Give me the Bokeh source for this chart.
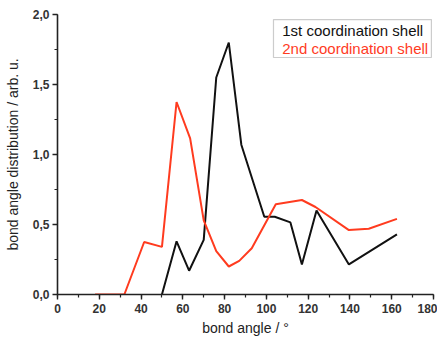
from bokeh.plotting import figure
from bokeh.models import Range1d, FixedTicker, Label, BoxAnnotation
from bokeh.embed import file_html
from bokeh.resources import INLINE

# 1st coordination shell (black)
x_first = [50, 57, 63, 70, 76, 82, 88, 99, 104, 111.5, 117, 124, 139.5, 162.5]
y_first = [0.0, 0.38, 0.17, 0.39, 1.55, 1.80, 1.07, 0.555, 0.555, 0.515, 0.215, 0.60, 0.215, 0.43]

# 2nd coordination shell (red)
x_second = [18, 32, 41.5, 50, 57, 63.5, 70, 76, 82, 87, 93, 104.5, 117, 123.5, 139.5, 149, 162.5]
y_second = [0.0, 0.0, 0.375, 0.34, 1.375, 1.115, 0.53, 0.31, 0.20, 0.24, 0.33, 0.645, 0.675, 0.625, 0.46, 0.47, 0.54]

x_ticks = [0, 20, 40, 60, 80, 100, 120, 140, 160, 180]
y_ticks = [0.0, 0.5, 1.0, 1.5, 2.0]
y_tick_labels = ["0,0", "0,5", "1,0", "1,5", "2,0"]
legend_labels = ["1st coordination shell", "2nd coordination shell"]

BLACK = "#111111"
RED = "#ff3b1f"
FONT = "Liberation Sans"

p = figure(width=437, height=342, output_backend="svg", toolbar_location=None,
           x_range=Range1d(0, 180), y_range=Range1d(0, 2.0),
           min_border_left=57, min_border_right=4, min_border_top=14, min_border_bottom=48)
p.outline_line_color = None
p.xgrid.visible = False
p.ygrid.visible = False
p.background_fill_color = "white"

p.line(x_first, y_first, line_color=BLACK, line_width=2)
p.line(x_second, y_second, line_color=RED, line_width=2)

for ax in (p.xaxis[0], p.yaxis[0]):
    ax.axis_line_color = "#222222"
    ax.axis_line_width = 1.6
    ax.major_tick_line_color = "#222222"
    ax.minor_tick_line_color = "#222222"
    ax.major_tick_line_width = 1.4
    ax.minor_tick_line_width = 1.2
    ax.major_tick_in = 0
    ax.major_tick_out = 5
    ax.minor_tick_in = 0
    ax.minor_tick_out = 3
    ax.major_label_text_font = FONT
    ax.major_label_text_font_size = "12px"
    ax.major_label_text_font_style = "bold"
    ax.major_label_text_color = "#333333"
    ax.axis_label_text_font = FONT
    ax.axis_label_text_font_size = "14px"
    ax.axis_label_text_font_style = "normal"
    ax.axis_label_text_color = "#222222"

p.xaxis.ticker = FixedTicker(ticks=x_ticks, minor_ticks=list(range(0, 181, 10)))
p.yaxis.ticker = FixedTicker(ticks=y_ticks, minor_ticks=[i * 0.25 for i in range(9)])
p.yaxis.major_label_overrides = {t: l for t, l in zip(y_ticks, y_tick_labels)}
p.xaxis.axis_label = "bond angle / °"
p.yaxis.axis_label = "bond angle distribution / arb. u."
p.xaxis.major_label_standoff = 4
p.xaxis.axis_label_standoff = 4
p.yaxis.major_label_standoff = 3
p.yaxis.axis_label_standoff = 9

# legend box (data units)
p.add_layout(BoxAnnotation(left=103.4, right=179, top=1.964, bottom=1.693,
                           fill_color="white", fill_alpha=1.0,
                           line_color="#555555", line_width=1.2))
for txt, col, yy in zip(legend_labels, [BLACK, RED], [1.884, 1.755]):
    p.add_layout(Label(x=107.6, y=yy, text=txt, text_color=col,
                       text_font=FONT, text_font_size="15px",
                       text_baseline="middle", text_align="left"))

open("out.html", "w").write(file_html(p, INLINE))
